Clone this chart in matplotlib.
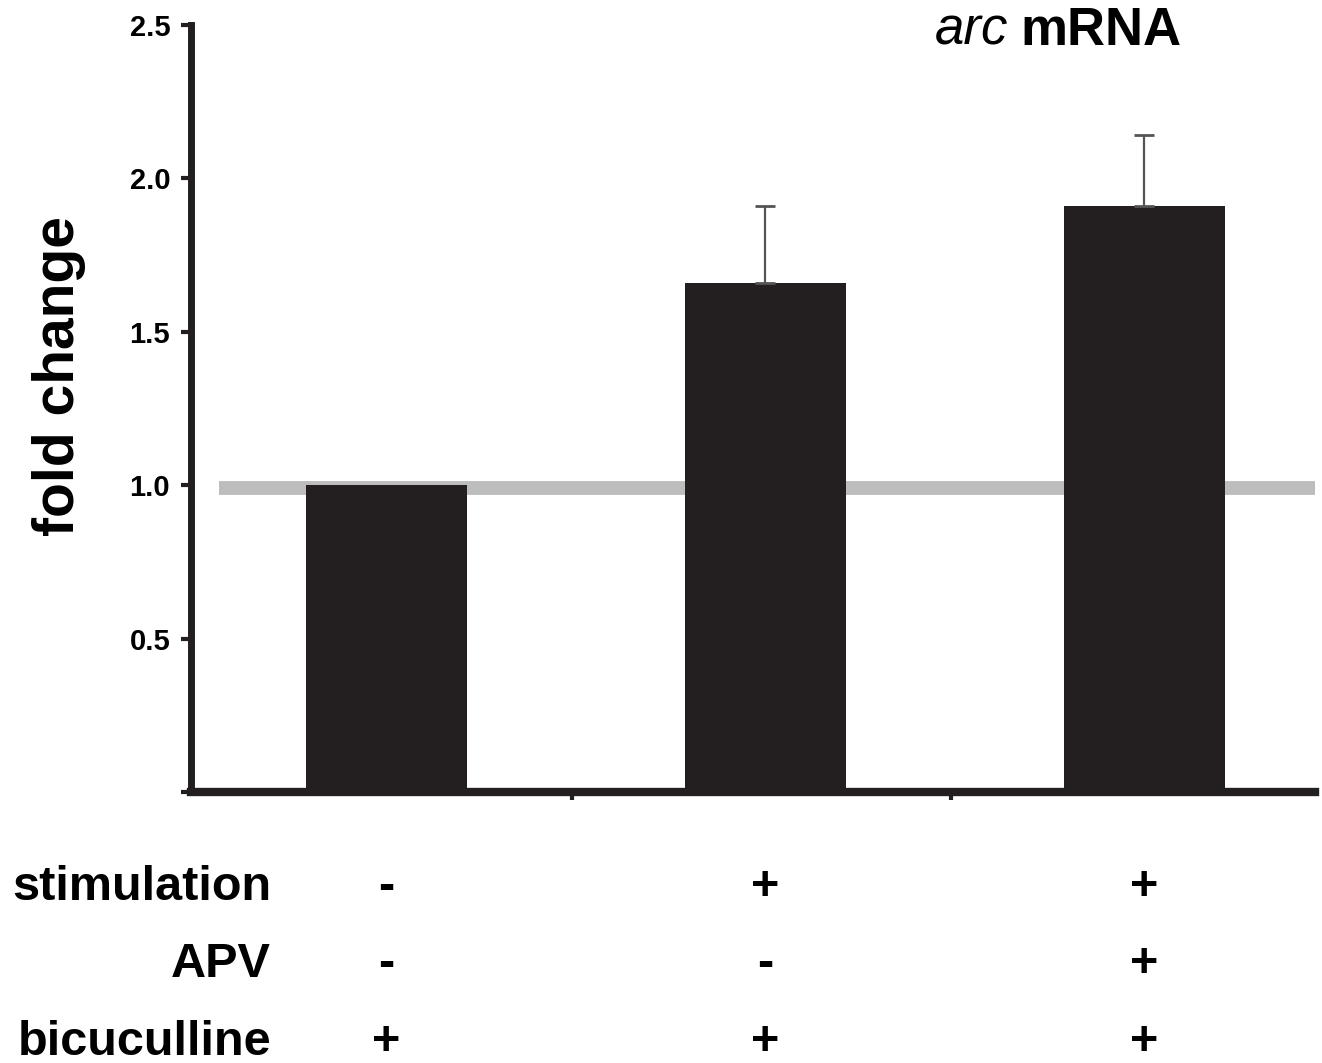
import numpy as np
import matplotlib
matplotlib.use('Agg')
import matplotlib.pyplot as plt
from matplotlib.transforms import blended_transform_factory

# data
conditions = ['ctrl', 'stim', 'stim+APV']
fold_change = [1.00, 1.66, 1.91]
err_up = [0.0, 0.25, 0.23]
baseline = 0.99

row_names = ['stimulation', 'APV', 'bicuculline']
row_signs = [['-', '+', '+'],
             ['-', '-', '+'],
             ['+', '+', '+']]

ink = '#231f20'
plt.rcParams['font.family'] = ['Liberation Sans', 'DejaVu Sans']

fig = plt.figure(figsize=(13.22, 10.63), dpi=100)
ax = fig.add_axes([0.1445, 0.2549, 0.8502, 0.7216])

x = np.arange(len(conditions))
ax.axhline(baseline, xmin=0.025, xmax=1.0, color='#bdbdbd', lw=10, zorder=1,
           solid_capstyle='butt')
ax.bar(x, fold_change, width=0.425, color=ink, zorder=2)
ax.errorbar(x[1:], fold_change[1:], yerr=[np.zeros(2), err_up[1:]], fmt='none',
            ecolor='#555555', elinewidth=1.6, capsize=7, capthick=2, zorder=3)

ax.set_xlim(-0.515, 2.45)
ax.set_ylim(0, 2.5)
ax.set_yticks([0, 0.5, 1.0, 1.5, 2.0, 2.5])
ax.set_yticklabels(['', '0.5', '1.0', '1.5', '2.0', '2.5'])
ax.set_xticks([0.49, 1.49])
ax.set_xticklabels([])
for lbl in ax.get_yticklabels():
    lbl.set_fontweight('bold')
ax.tick_params(axis='y', labelsize=21, width=3, length=7, color=ink, pad=8)
ax.tick_params(axis='x', width=3, length=6, color=ink)

ax.spines['top'].set_visible(False)
ax.spines['right'].set_visible(False)
ax.spines['left'].set_linewidth(5)
ax.spines['bottom'].set_linewidth(6)
ax.spines['left'].set_color(ink)
ax.spines['bottom'].set_color(ink)

# y label placed by hand (it sits above the axis middle in the original)
fig.text(0.045, 0.646, 'fold change', fontsize=41, fontweight='bold',
         rotation=90, ha='center', va='center')

# title
fig.text(0.7625, 0.9577, 'arc', fontsize=38, style='italic', ha='right', va='baseline')
fig.text(0.7716, 0.9577, 'mRNA', fontsize=38, fontweight='bold', ha='left', va='baseline')

# treatment table under the axis
trans = blended_transform_factory(ax.transData, fig.transFigure)
row_y = [0.1533, 0.0809, 0.0075]
for name, signs, yy in zip(row_names, row_signs, row_y):
    fig.text(0.205, yy, name, fontsize=35, fontweight='bold', ha='right', va='baseline')
    for xi, s in zip(x, signs):
        ax.text(xi, yy, s, transform=trans, fontsize=35, fontweight='bold',
                ha='center', va='baseline')

fig.savefig('out.png', dpi=100)
